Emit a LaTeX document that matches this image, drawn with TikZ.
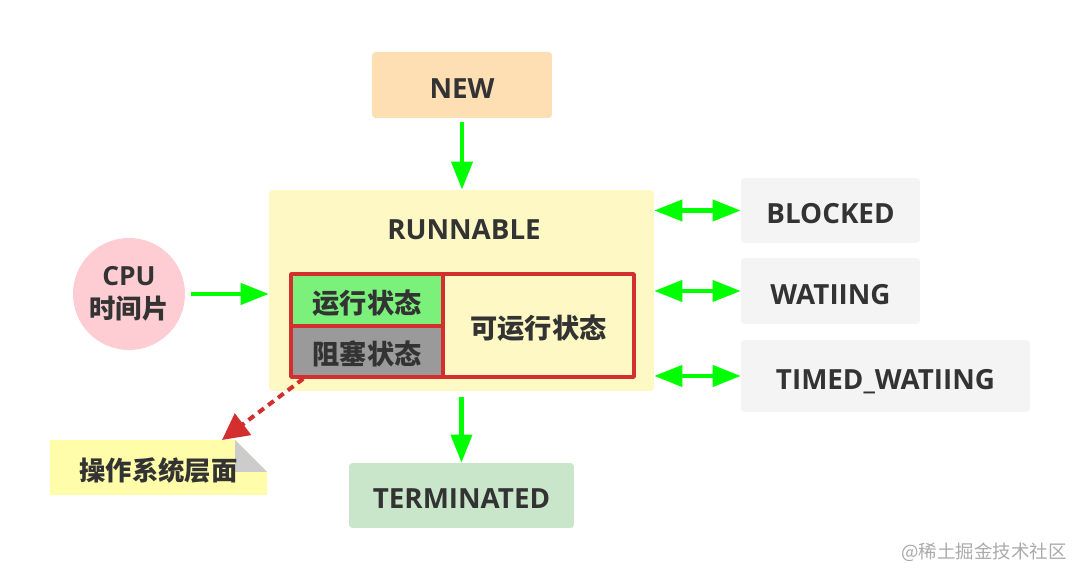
\documentclass[tikz,border=0pt]{standalone}
\usepackage{fontspec}
\setmainfont{Open Sans}
\newfontfamily\cjk{Noto Sans CJK SC}
\usepackage{xcolor}
\usetikzlibrary{arrows.meta,calc,positioning}
\definecolor{newfill}{HTML}{FDDFB3}
\definecolor{runfill}{HTML}{FDF8C4}
\definecolor{waitfill}{HTML}{F4F4F4}
\definecolor{endfill}{HTML}{C9E6CB}
\definecolor{cpufill}{HTML}{FDCDD3}
\definecolor{runcell}{HTML}{7BF07B}
\definecolor{blockcell}{HTML}{9A9A9A}
\definecolor{notefill}{HTML}{FFFCAA}
\definecolor{foldgray}{HTML}{CCCCCC}
\definecolor{osred}{HTML}{D32F2F}
\definecolor{arrowgreen}{HTML}{00FF00}
\definecolor{txt}{HTML}{333333}
\definecolor{wmgray}{HTML}{AAAAAA}

\begin{document}
\begin{tikzpicture}[x=0.02cm,y=-0.02cm,line cap=round,line join=round,
  box/.style={rectangle,rounded corners=2pt,inner sep=0pt,text=txt,text height=15.3pt,text depth=0pt,
    font=\fontsize{15.8}{18}\selectfont\bfseries},
  cell/.style={rectangle,draw=osred,line width=2pt,inner sep=0pt,text=txt,text height=17pt,text depth=2pt,
    font=\cjk\fontsize{15.5}{18}\selectfont\bfseries},
  garrow/.style={draw=arrowgreen,line cap=butt,line width=2.3pt,-{Triangle[length=16pt,width=12pt]}},
  gboth/.style={draw=arrowgreen,line cap=butt,line width=2.3pt,{Triangle[length=16pt,width=12pt]}-{Triangle[length=16pt,width=12pt]}}]
\useasboundingbox (0,0) rectangle (1083,580);
%\draw[step=50,gray,very thin] (0,0) grid (1083,580);

% states
\node[box,fill=newfill,minimum width=3.6cm,minimum height=1.32cm] (new) at (462,85) {NEW};
\node[box,fill=runfill,minimum width=7.7cm,minimum height=4.02cm] (run) at (461.5,290.5) {};
\node[box,text height=11.3pt] (runlabel) at (464,230) {RUNNABLE};
\node[cell,fill=runcell,minimum width=3.04cm,minimum height=1.04cm] (running) at (367,300) {运行状态};
\node[cell,fill=blockcell,minimum width=3.04cm,minimum height=1.02cm] (blocking) at (367,351.5) {阻塞状态};
\node[cell,fill=runfill,minimum width=3.82cm,minimum height=2.06cm] (ready) at (538.5,325.5) {可运行状态};
\node[circle,fill=cpufill,minimum size=2.24cm,inner sep=0pt,align=center,text=txt,
  font=\fontsize{15}{19}\selectfont\bfseries] (cpu) at (129,294) {CPU\\{\cjk 时间片}};
\node[box,fill=waitfill,minimum width=3.58cm,minimum height=1.3cm] (blocked) at (830.5,210.5) {BLOCKED};
\node[box,fill=waitfill,minimum width=3.58cm,minimum height=1.32cm] (waiting) at (830.5,291) {WATIING};
\node[box,fill=waitfill,minimum width=5.78cm,minimum height=1.44cm] (timed) at (885.5,376) {TIMED\_WATIING};
\node[box,fill=endfill,minimum width=4.5cm,minimum height=1.3cm] (term) at (461.5,495.5) {TERMINATED};

% note with folded corner
\fill[notefill] (50,440) -- (235,440) -- (267,472) -- (267,495) -- (50,495) -- cycle;
\fill[foldgray] (235,440) -- (267,472) -- (235,472) -- cycle;
\node[text=txt,font=\cjk\fontsize{15}{18}\selectfont\bfseries] (os) at (158.5,470.5) {操作系统层面};
\coordinate (ostip) at (222,440);

% arrows
\draw[garrow,shorten <=2pt] (new.south) -- (new.south |- run.north);
\draw[garrow,shorten <=3pt] (cpu.east) -- (cpu.east -| run.west);
\draw[gboth] (run.east |- blocked.west) -- (blocked.west);
\draw[gboth] (run.east |- waiting.west) -- (waiting.west);
\draw[gboth] (run.east |- timed.west) -- (timed.west);
\draw[garrow,shorten <=3pt] (run.south) -- (term.north);
\draw[osred,line cap=butt,line width=2.3pt,dash pattern=on 4pt off 3pt,-{Triangle[length=15pt,width=15pt]}]
  ($(blocking.south west)!0.09!(blocking.south east)$) -- (ostip);

\node[text=wmgray,font=\cjk\fontsize{10.5}{12}\selectfont] (mark) at (984,552) {@稀土掘金技术社区};
\end{tikzpicture}
\end{document}
